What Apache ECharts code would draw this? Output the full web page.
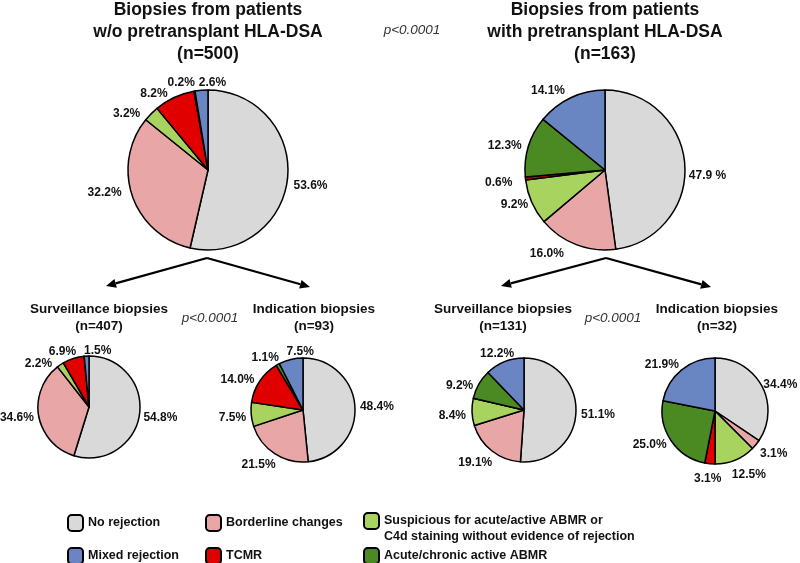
<!DOCTYPE html>
<html>
<head>
<meta charset="utf-8">
<script src="https://cdn.jsdelivr.net/npm/echarts@6/dist/echarts.min.js"></script>
<style>html,body{margin:0;padding:0;background:#fff}#c{width:800px;height:563px}</style>
</head>
<body>
<div id="c"></div>
<script>
// Categories (slice order: clockwise from 12 o'clock)
const categories = ['No rejection', 'Borderline changes', 'Suspicious for acute/active ABMR or\nC4d staining without evidence of rejection', 'TCMR', 'Acute/chronic active ABMR', 'Mixed rejection'];
const colors = ['#d9d9d9', '#e9a6a6', '#a8d35e', '#e00000', '#4b8a23', '#6a86c2'];

// Percentages per pie
const noDsaAll      = [53.6, 32.2, 3.2, 8.2, 0.2, 2.6];
const dsaAll        = [47.9, 16.0, 9.2, 0.6, 12.3, 14.1];
const noDsaSurv     = [54.8, 34.6, 2.2, 6.9, 0, 1.5];
const noDsaInd      = [48.4, 21.5, 7.5, 14.0, 1.1, 7.5];
const dsaSurv       = [51.1, 19.1, 8.4, 0, 9.2, 12.2];
const dsaInd        = [34.4, 3.1, 12.5, 3.1, 25.0, 21.9];

const pieValues = [noDsaAll, dsaAll, noDsaSurv, noDsaInd, dsaSurv, dsaInd];
const pieTitles = [
  'Biopsies from patients\nw/o pretransplant HLA-DSA\n(n=500)',
  'Biopsies from patients\nwith pretransplant HLA-DSA\n(n=163)',
  'Surveillance biopsies\n(n=407)',
  'Indication biopsies\n(n=93)',
  'Surveillance biopsies\n(n=131)',
  'Indication biopsies\n(n=32)'
];
const pValue = 'p<0.0001';

// ---- layout (not data) ----
const pieGeom = [
  {c: [208, 170], r: 80},
  {c: [605, 170], r: 80},
  {c: [89, 407], r: 51},
  {c: [303, 410], r: 52},
  {c: [524, 410], r: 52},
  {c: [715, 411], r: 53}
];
// label nudges [dx, dy] in slice order
const labelNudge = [
  [[-3, 6], [-2, -5], [-3, 3], [0, 0], [6, -5], [30, -4]],
  [[-5, 11], [-6, 5], [5, 1], [-4, 4], [2, 0], [1, -3]],
  [[-5, 2], [4, 1], [-1, 2], [9, -3], [0, 0], [30, -1]],
  [[-4, 0], [8, 8], [4, 3], [3, 1], [8, -3], [29, -4]],
  [[-4, 3], [8, 9], [3, 4], [0, 0], [3, 3], [16, -4]],
  [[-7, 1], [-4, 6], [-10, 11], [17, 11], [4, 2], [5, -2]]
];
const FONT = 'Liberation Sans, Arial, Helvetica, sans-serif';

const chart = echarts.init(document.getElementById('c'), null, {renderer: 'canvas'});

const series = pieValues.map((vals, si) => ({
  type: 'pie',
  center: pieGeom[si].c,
  radius: [0, pieGeom[si].r],
  startAngle: 90,
  clockwise: true,
  avoidLabelOverlap: false,
  animation: false,
  silent: true,
  itemStyle: {borderColor: '#000', borderWidth: 1.5},
  label: {
    show: true, position: 'outside', color: '#111',
    fontFamily: FONT, fontWeight: 'bold', fontSize: 12,
    formatter: p => p.value === 0 ? '' : (si === 1 && p.dataIndex === 0 ? p.value.toFixed(1) + ' %' : p.value.toFixed(1) + '%')
  },
  labelLine: {show: false, length: 4, length2: 0},
  labelLayout: p => {
    const n = labelNudge[si][p.dataIndex] || [0, 0];
    return {dx: n[0], dy: n[1], hideOverlap: false, moveOverlap: null};
  },
  data: vals.map((v, i) => ({name: categories[i], value: v, itemStyle: {color: colors[i]}}))
}));

const titleX = [208, 605, 99, 314, 503, 717];
const titles = pieTitles.map((t, i) => {
  const big = i < 2;
  return {
    text: t, left: titleX[i], top: big ? -1 : 301, textAlign: 'center', padding: 0,
    textStyle: {fontFamily: FONT, fontWeight: 'bold', fontSize: big ? 17.5 : 13.5, lineHeight: big ? 22 : 17, color: '#111'}
  };
});
[[412, 23], [210, 311], [613, 311]].forEach(([x, y]) => titles.push({
  text: pValue, left: x, top: y, textAlign: 'center', padding: 0,
  textStyle: {fontFamily: FONT, fontStyle: 'italic', fontWeight: 'normal', fontSize: 13.5, color: '#333'}
}));

// legends: one per item for precise placement
const legendPos = [
  {name: categories[0], left: 67, top: 514},
  {name: categories[1], left: 205, top: 514},
  {name: categories[2], left: 363, top: 497, twoLine: true},
  {name: categories[5], left: 67, top: 547},
  {name: categories[3], left: 205, top: 547},
  {name: categories[4], left: 363, top: 547}
];
const legends = legendPos.map(l => ({
  data: [l.name], left: l.left, top: l.top, orient: 'vertical', padding: 0,
  itemWidth: 15, itemHeight: 16, itemGap: 0, selectedMode: false,
  formatter: l.twoLine ? (name => ' \n' + name) : (name => name),
  textStyle: {fontFamily: FONT, fontWeight: 'bold', fontSize: 12.5, color: '#111', lineHeight: 16}
}));

// arrows
function arrow(x1, y1, x2, y2) {
  const ang = Math.atan2(y2 - y1, x2 - x1);
  const L = 10, W = 4.5;
  const bx = x2 - L * Math.cos(ang), by = y2 - L * Math.sin(ang);
  const px = -Math.sin(ang) * W, py = Math.cos(ang) * W;
  return [
    {type: 'line', shape: {x1, y1, x2: bx, y2: by}, style: {stroke: '#000', lineWidth: 2.2}, silent: true},
    {type: 'polygon', shape: {points: [[x2, y2], [bx + px, by + py], [bx - px, by - py]]}, style: {fill: '#000'}, silent: true}
  ];
}
const graphic = [].concat(
  arrow(207, 258, 106, 286), arrow(207, 258, 310, 287),
  arrow(606, 258, 501, 286), arrow(606, 258, 711, 287)
);

chart.setOption({
  backgroundColor: '#fff',
  animation: false,
  title: titles,
  legend: legends,
  series,
  graphic
});
</script>
</body>
</html>
